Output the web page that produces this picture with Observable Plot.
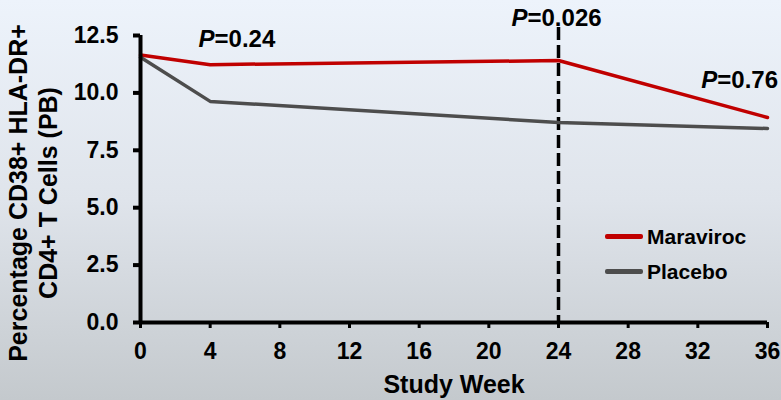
<!DOCTYPE html>
<html>
<head>
<meta charset="utf-8">
<script src="https://cdn.jsdelivr.net/npm/d3@7"></script>
<script src="https://cdn.jsdelivr.net/npm/@observablehq/plot@0.6"></script>
<style>
  html, body { margin: 0; padding: 0; }
  #wrap {
    position: relative; width: 781px; height: 400px; overflow: hidden;
    background: linear-gradient(to bottom, #EDF3FB 0%, #DFE4EB 50%, #C4C9CD 100%);
    font-family: "Liberation Sans", Arial, sans-serif;
  }
  #legend { position: absolute; left: 605px; top: 219px; }
  .row { display: flex; align-items: center; height: 35px; }
  .sw { width: 38px; height: 5px; border-radius: 2px; margin-right: 4px; }
  .lab { font-size: 21px; font-weight: bold; line-height: 21px; color: #000; }
</style>
</head>
<body>
<div id="wrap"></div>
<script>
const weeks = [0, 4, 24, 36];
const maraviroc = [11.65, 11.23, 11.41, 8.93];
const placebo = [11.55, 9.63, 8.71, 8.45];
const seriesNames = ["Maraviroc", "Placebo"];
const seriesColors = ["#C00000", "#4D4D4D"];
const xTicks = [0, 4, 8, 12, 16, 20, 24, 28, 32, 36];
const yTicks = [0, 2.5, 5, 7.5, 10, 12.5];
const pLabels = ["=0.24", "=0.026", "=0.76"];
const pWeek = [4.25, 22.22, 33.12];
const pLevel = [12.32, 13.23, 10.53];
const refWeek = [24];
const yTitle = "Percentage CD38+ HLA-DR+\nCD4+ T Cells (PB)";
const xTitle = "Study Week";

const rows = [
  ...weeks.map((w, i) => ({week: w, value: maraviroc[i], series: seriesNames[0]})),
  ...weeks.map((w, i) => ({week: w, value: placebo[i], series: seriesNames[1]}))
];

const bold = {fontWeight: "bold", fill: "#000"};

const chart = Plot.plot({
  width: 781,
  height: 400,
  marginLeft: 140,
  marginRight: 14,
  marginTop: 35,
  marginBottom: 78,
  style: {background: "transparent", overflow: "visible", fontFamily: "'Liberation Sans', Arial, sans-serif"},
  x: {domain: [0, 36]},
  y: {domain: [0, 12.5]},
  color: {domain: seriesNames, range: seriesColors},
  marks: [
    Plot.ruleX(refWeek, {y1: 12.85, y2: 0, stroke: "#000", strokeWidth: 3.5, strokeDasharray: "13,5"}),
    Plot.line(rows, {x: "week", y: "value", stroke: "series", z: "series", strokeWidth: 3.5}),
    Plot.ruleX([0], {stroke: "#000", strokeWidth: 4}),
    Plot.ruleY([0], {stroke: "#000", strokeWidth: 4}),
    Plot.axisY({ticks: yTicks, tickFormat: d3.format(".1f"), tickSize: 7, tickPadding: 15, fontSize: 23, ...bold, stroke: "#000", strokeWidth: 4, label: null}),
    Plot.axisX({ticks: xTicks, tickFormat: d3.format("d"), tickSize: 6, tickPadding: 14, fontSize: 23, ...bold, stroke: "#000", strokeWidth: 3, label: null}),
    Plot.text(pLabels, {x: pWeek, y: pLevel, text: () => "P", textAnchor: "end", fontStyle: "italic", fontSize: 24, ...bold}),
    Plot.text(pLabels, {x: pWeek, y: pLevel, text: d => d, textAnchor: "start", fontSize: 24, ...bold}),
    Plot.text([xTitle], {frameAnchor: "bottom", text: d => d, textAnchor: "middle", lineAnchor: "top", dy: 53, fontSize: 25, ...bold}),
    Plot.text([yTitle], {frameAnchor: "left", text: d => d, rotate: -90, textAnchor: "middle", lineAnchor: "middle", lineHeight: 1.2, dx: -108, dy: 14, fontSize: 25, ...bold})
  ]
});

const wrap = document.getElementById("wrap");
wrap.appendChild(chart);

const legend = document.createElement("div");
legend.id = "legend";
seriesNames.forEach((name, i) => {
  const row = document.createElement("div");
  row.className = "row";
  const sw = document.createElement("div");
  sw.className = "sw";
  sw.style.background = seriesColors[i];
  const lab = document.createElement("span");
  lab.className = "lab";
  lab.textContent = name;
  row.appendChild(sw);
  row.appendChild(lab);
  legend.appendChild(row);
});
wrap.appendChild(legend);
</script>
</body>
</html>
